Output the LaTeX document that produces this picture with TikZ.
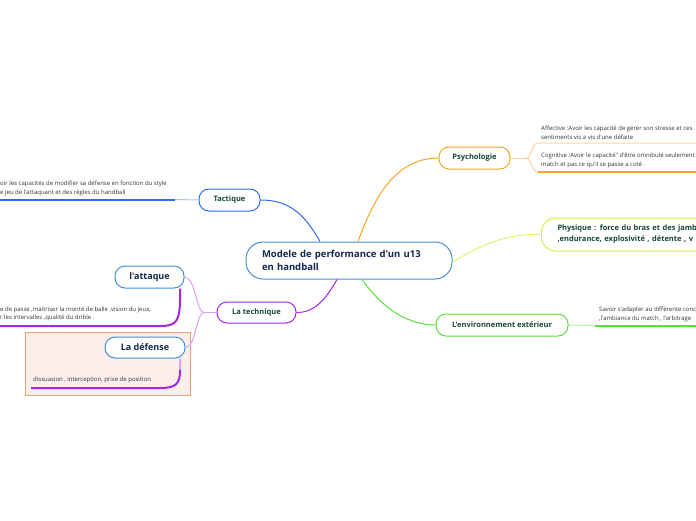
\documentclass[tikz,border=0pt]{standalone}
\usepackage{fontspec}
\setmainfont{Open Sans}[Ligatures=TeXOff]
\usetikzlibrary{calc}
\definecolor{navy}{HTML}{14284F}
\definecolor{dgreen}{HTML}{17463A}
\definecolor{cblue}{HTML}{4A8FD0}
\definecolor{tblue}{HTML}{2F6BF0}
\definecolor{tbluel}{HTML}{A8C6F8}
\definecolor{orng}{HTML}{F7A525}
\definecolor{orngl}{HTML}{FCD69A}
\definecolor{ygreen}{HTML}{D8F048}
\definecolor{ygreenl}{HTML}{E0F272}
\definecolor{grn}{HTML}{58E038}
\definecolor{grnl}{HTML}{B6F2A8}
\definecolor{purp}{HTML}{A526E8}
\definecolor{purpl}{HTML}{D9A0F5}
\definecolor{sblue}{HTML}{3F8FDD}
\definecolor{framefill}{HTML}{FCEFEB}
\definecolor{framedraw}{HTML}{F0A078}
\definecolor{txt}{HTML}{333333}
\tikzset{
  pill/.style={draw, line width=1pt, fill=white, rounded corners=10pt, inner sep=0pt, font=\bfseries\fontsize{7.5}{9}\selectfont, text=dgreen},
  subpill/.style={draw=sblue, line width=1pt, fill=white, rounded corners=10pt, inner sep=0pt, font=\bfseries\fontsize{9}{11}\selectfont, text=navy},
  detail/.style={inner sep=0pt, align=left, text=txt, font=\fontsize{6}{8.8}\selectfont, anchor=south west},
  thinline/.style={line width=1pt},
  thickline/.style={line width=2pt}
}
\begin{document}
\begin{tikzpicture}[x=1pt,y=-1pt]
\useasboundingbox (0,0) rectangle (696,520);
% frame
\node[draw=framedraw, fill=framefill, line width=0.8pt, minimum width=165pt, minimum height=63pt, inner sep=0pt] (grp) at (107.5,363.5) {};
% central
\node[draw=cblue, line width=1pt, fill=white, rounded corners=17pt, minimum width=206pt, minimum height=37pt, inner xsep=16pt, inner ysep=0pt, text width=174pt, align=left, font=\bfseries\fontsize{9.5}{13}\selectfont, text=navy] (central) at (349,260.5) {Modele de performance d'un u13\\en handball};
% main branches
\node[pill, draw=tblue, minimum width=61pt, minimum height=22pt] (tact) at (229.5,200) {Tactique};
\node[pill, draw=orng, minimum width=71pt, minimum height=22pt] (psy) at (474.5,158) {Psychologie};
\node[pill, draw=ygreen, rounded corners=14pt, anchor=west, minimum height=33pt, inner xsep=16pt, text width=160pt, align=left, font=\bfseries\fontsize{7.5}{11}\selectfont] (phys) at (541,234.5) {Physique : force du bras et des jamb\\,endurance, explosivité , détente , v};
\node[pill, draw=grn, minimum width=132pt, minimum height=22pt] (env) at (502,325) {L'environnement extérieur};
\node[pill, draw=purp, minimum width=79pt, minimum height=21pt] (tech) at (256.5,312.5) {La technique};
\node[subpill, minimum width=69pt, minimum height=22pt] (att) at (149.5,277) {l'attaque};
\node[subpill, minimum width=80pt, minimum height=21pt] (def) at (145,347.5) {La défense};
% connectors from central
\draw[tblue, thinline] ([xshift=-29pt]central.north) .. controls (305,215) and (290,200) .. (tact.east);
\draw[orng, thinline] ([xshift=9pt]central.north) .. controls (374,198) and (395,158) .. (psy.west);
\draw[ygreenl, thinline] ([yshift=-1.5pt]central.east) .. controls (490,240) and (510,234) .. (phys.west);
\draw[grn, thinline] ([xshift=13pt]central.south) .. controls (380,305) and (405,325) .. (env.west);
\draw[purp, thinline] ([xshift=-12pt]central.south) .. controls (325,300) and (315,312.5) .. (tech.east);
% technique sub-branches
\coordinate (tj) at (204,312.5);
\draw[purpl, thinline] (tech.west) -- (tj);
\draw[purpl, thinline] (tj) .. controls (196,312) and (196,278) .. (att.east);
\draw[purpl, thinline] (tj) .. controls (196,313) and (196,347) .. (def.east);
% tactique detail
\coordinate (tc1) at (175,199.5);
\coordinate (tc2) at (-2,199.5);
\draw[tbluel, thinline] (tact.west) -- (tc1);
\draw[draw=tblue, thickline] (tc1) -- (tc2);
\node[detail] (tactd) at (0,196) {oir les capacités de modifier sa défense en fonction du style\\e jeu de l'attaquant et des règles du handball};
% psychologie details
\coordinate (pj) at (526,158);
\coordinate (pa1) at (538,143);
\coordinate (pa2) at (698,143);
\coordinate (pb1) at (538,172);
\coordinate (pb2) at (698,172);
\draw[orngl, thinline] (psy.east) -- (pj);
\draw[orngl, thinline] (pj) .. controls (532,158) and (531,143) .. (pa1) -- (pa2);
\draw[orngl, thinline] (pj) .. controls (532,158) and (531,172) .. (pb1);
\draw[draw=orng, thickline] (pb1) -- (pb2);
\node[detail] (psya) at (541,139.5) {Affective :Avoir les capacité de gérer son stresse et ces\\sentiments vis a vis d'une défaite};
\node[detail] (psyb) at (541,168) {Cognitive :Avoir le capacité" d'être omnibulé seulement\\match et pas ce qu'il se passe a coté .};
% environnement detail
\coordinate (ec1) at (595,325.5);
\coordinate (ec2) at (698,325.5);
\draw[grnl, thinline] (env.east) -- (ec1);
\draw[draw=grn, thickline] (ec1) -- (ec2);
\node[detail] (envd) at (599,322) {Savoir s'adapter au différente conc\\,l'ambiance du match , l'arbitrage};
% attaque detail
\coordinate (ac1) at (180,298);
\coordinate (ac2) at (160,326);
\coordinate (ac3) at (-2,326);
\draw[draw=purp, thickline] ([xshift=-4.5pt]att.south east) -- (ac1) .. controls (180,322) and (176,326) .. (ac2) -- (ac3);
\node[detail] (attd) at (0,321.5) {e de passe ,maitriser la monté de balle ,vision du jeux,\\r les intervalles ,qualité du drible .};
% defense detail
\coordinate (dc1) at (180,370);
\coordinate (dc2) at (160,388);
\coordinate (dc3) at (31,388);
\draw[draw=purpl, thickline] ([xshift=-5pt]def.south east) -- (dc1);
\draw[draw=purp, thickline] (dc1) .. controls (180,384) and (176,388) .. (dc2) -- (dc3);
\node[detail] (defd) at (33,383.5) {dissuasion , interception, prise de position};
\end{tikzpicture}
\end{document}
